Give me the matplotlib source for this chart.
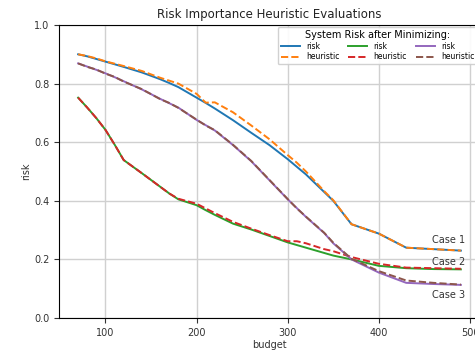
import matplotlib
matplotlib.use("Agg")
import matplotlib.pyplot as plt

budget = [70, 80, 90, 100, 110, 120, 140, 160, 170, 180, 200, 210, 220, 240, 260,
          280, 300, 310, 320, 340, 350, 370, 400, 430, 460, 490]

case1_risk = [0.900, 0.893, 0.884, 0.875, 0.866, 0.857, 0.838, 0.815, 0.802, 0.788,
              0.752, 0.734, 0.715, 0.675, 0.632, 0.590, 0.542, 0.516, 0.490, 0.430,
              0.400, 0.320, 0.288, 0.240, 0.235, 0.230]
case1_heur = [0.900, 0.894, 0.886, 0.876, 0.868, 0.860, 0.843, 0.820, 0.810, 0.800,
              0.765, 0.735, 0.736, 0.702, 0.657, 0.610, 0.556, 0.530, 0.500, 0.433,
              0.402, 0.320, 0.288, 0.240, 0.235, 0.230]
case2_risk = [0.752, 0.718, 0.682, 0.642, 0.592, 0.539, 0.494, 0.448, 0.425, 0.405,
              0.385, 0.368, 0.352, 0.322, 0.302, 0.280, 0.258, 0.249, 0.240, 0.222,
              0.213, 0.200, 0.178, 0.170, 0.167, 0.166]
case2_heur = [0.752, 0.718, 0.682, 0.642, 0.592, 0.539, 0.494, 0.448, 0.425, 0.407,
              0.390, 0.374, 0.358, 0.328, 0.305, 0.283, 0.262, 0.262, 0.255, 0.235,
              0.228, 0.208, 0.185, 0.172, 0.170, 0.168]
case3_risk = [0.869, 0.858, 0.847, 0.835, 0.822, 0.808, 0.780, 0.748, 0.733, 0.718,
              0.676, 0.658, 0.640, 0.590, 0.535, 0.470, 0.405, 0.375, 0.345, 0.290,
              0.255, 0.200, 0.155, 0.120, 0.116, 0.113]
case3_heur = [0.869, 0.857, 0.848, 0.834, 0.823, 0.807, 0.781, 0.747, 0.734, 0.717,
              0.677, 0.657, 0.641, 0.591, 0.536, 0.471, 0.406, 0.374, 0.346, 0.291,
              0.257, 0.202, 0.160, 0.128, 0.120, 0.114]

case_labels = ["Case 1", "Case 2", "Case 3"]
case_label_y = [0.265, 0.19, 0.08]

fig = plt.figure(figsize=(4.75, 3.51), dpi=100)
ax = fig.add_axes([59/475, 33/351, 421/475, 293/351])

lw = 1.4
h1, = ax.plot(budget, case1_risk, color="tab:blue", lw=lw, label="risk")
h2, = ax.plot(budget, case1_heur, color="tab:orange", lw=lw, ls="--", label="heuristic")
h3, = ax.plot(budget, case2_risk, color="tab:green", lw=lw, label="risk")
h4, = ax.plot(budget, case2_heur, color="tab:red", lw=lw, ls="--", label="heuristic")
h5, = ax.plot(budget, case3_risk, color="tab:purple", lw=lw, label="risk")
h6, = ax.plot(budget, case3_heur, color="tab:brown", lw=lw, ls="--", label="heuristic")

for lab, y in zip(case_labels, case_label_y):
    ax.text(495, y, lab, ha="right", va="center", fontsize=7, color="#333333")

ax.set_xlim(49, 511)
ax.set_ylim(0, 1.0)
ax.set_xticks([100, 200, 300, 400, 500])
ax.set_yticks([0.0, 0.2, 0.4, 0.6, 0.8, 1.0])
ax.grid(True, color="#d0d0d0", lw=1)
ax.set_axisbelow(True)
ax.tick_params(labelsize=7, colors="#333333")
ax.set_xlabel("budget", fontsize=7, color="#333333", labelpad=2)
ax.set_ylabel("risk", fontsize=7, color="#333333", labelpad=2)
ax.set_title("Risk Importance Heuristic Evaluations", fontsize=8.5, color="#222222", pad=5)

leg = ax.legend(handles=[h1, h2, h3, h4, h5, h6], ncol=3, loc="upper right",
                title="System Risk after Minimizing:", fontsize=5.5, title_fontsize=7,
                handlelength=2.5, columnspacing=1.2, labelspacing=0.2,
                borderaxespad=0.3, framealpha=0.9)

fig.savefig("out.png", dpi=100)
